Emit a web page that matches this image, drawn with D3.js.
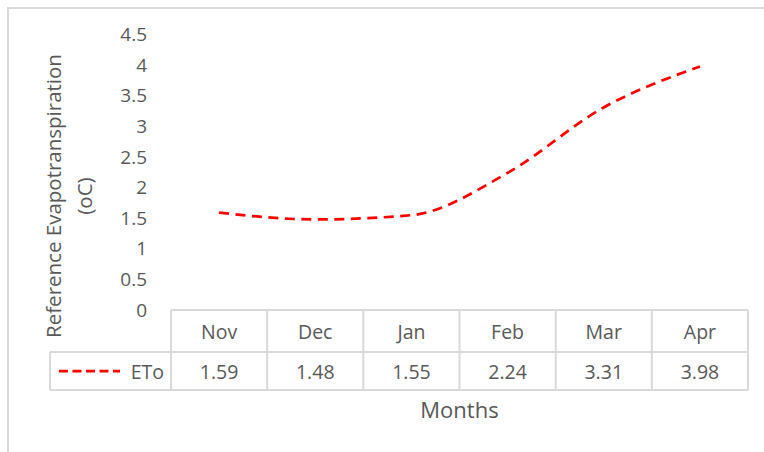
<!DOCTYPE html>
<html>
<head>
<meta charset="utf-8">
<script src="https://cdn.jsdelivr.net/npm/d3@7"></script>
<style>
  body { margin: 0; background: #fff; }
  text { font-family: "Open Sans", sans-serif; fill: #595959; }
</style>
</head>
<body>
<svg id="chart" width="764" height="452"></svg>
<script>
// data
const months = ['Nov', 'Dec', 'Jan', 'Feb', 'Mar', 'Apr'];
const eto = [1.59, 1.48, 1.55, 2.24, 3.31, 3.98];
const yTicks = [0, 0.5, 1, 1.5, 2, 2.5, 3, 3.5, 4, 4.5];
const seriesName = 'ETo';
const yTitleLines = ['Reference Evapotranspiration', '(oC)'];
const xTitle = 'Months';

const svg = d3.select('#chart');
const gridColor = '#d9d9d9';
const red = '#ff0000';

const plotLeft = 171, plotRight = 748, plotTop = 34.6, plotBottom = 310;
const rowH1 = 42, rowH2 = 38;

const x = d3.scaleBand().domain(months).range([plotLeft, plotRight]);
const y = d3.scaleLinear().domain([0, 4.5]).range([plotBottom, plotTop]);

// outer frame (only top/left visible)
svg.append('rect')
    .attr('x', 8).attr('y', 8)
    .attr('width', 800).attr('height', 500)
    .attr('fill', 'none')
    .attr('stroke', gridColor)
    .attr('stroke-width', 2);

// y axis tick labels
svg.append('g')
    .selectAll('text')
    .data(yTicks)
    .join('text')
    .attr('x', 147)
    .attr('y', d => y(d))
    .attr('dy', '0.35em')
    .attr('text-anchor', 'end')
    .attr('font-size', 19)
    .text(d => d);

// y title, two lines, rotated
const yt = svg.append('g').attr('transform', 'translate(0,196) rotate(-90)');
yt.selectAll('text')
    .data(yTitleLines)
    .join('text')
    .attr('x', 0)
    .attr('y', (d, i) => i === 0 ? 61 : 92)
    .attr('text-anchor', 'middle')
    .attr('font-size', 20.5)
    .text(d => d);

// data table
const table = svg.append('g')
    .attr('stroke', gridColor)
    .attr('stroke-width', 2)
    .attr('fill', 'none');

table.append('line')
    .attr('x1', plotLeft).attr('x2', plotRight)
    .attr('y1', plotBottom).attr('y2', plotBottom);
table.append('line')
    .attr('x1', 50).attr('x2', plotRight)
    .attr('y1', plotBottom + rowH1).attr('y2', plotBottom + rowH1);
table.append('line')
    .attr('x1', 50).attr('x2', plotRight)
    .attr('y1', plotBottom + rowH1 + rowH2).attr('y2', plotBottom + rowH1 + rowH2);
table.append('line')
    .attr('x1', 50).attr('x2', 50)
    .attr('y1', plotBottom + rowH1).attr('y2', plotBottom + rowH1 + rowH2);
table.selectAll('line.v')
    .data(months.map(m => x(m)).concat([plotRight]))
    .join('line')
    .attr('class', 'v')
    .attr('x1', d => d).attr('x2', d => d)
    .attr('y1', plotBottom).attr('y2', plotBottom + rowH1 + rowH2);

svg.append('g')
    .selectAll('text')
    .data(months)
    .join('text')
    .attr('x', d => x(d) + x.bandwidth() / 2)
    .attr('y', plotBottom + rowH1 / 2 + 1)
    .attr('dy', '0.35em')
    .attr('text-anchor', 'middle')
    .attr('font-size', 19.5)
    .text(d => d);

svg.append('g')
    .selectAll('text')
    .data(eto)
    .join('text')
    .attr('x', (d, i) => x(months[i]) + x.bandwidth() / 2)
    .attr('y', plotBottom + rowH1 + rowH2 / 2 + 1)
    .attr('dy', '0.35em')
    .attr('text-anchor', 'middle')
    .attr('font-size', 19.5)
    .text(d => d.toFixed(2));

// legend key inside the table
svg.append('line')
    .attr('x1', 59).attr('x2', 120)
    .attr('y1', plotBottom + rowH1 + rowH2 / 2).attr('y2', plotBottom + rowH1 + rowH2 / 2)
    .attr('stroke', red)
    .attr('stroke-width', 2.75)
    .attr('stroke-dasharray', '9,4.5');
svg.append('text')
    .attr('x', 164)
    .attr('y', plotBottom + rowH1 + rowH2 / 2 + 1)
    .attr('dy', '0.35em')
    .attr('text-anchor', 'end')
    .attr('font-size', 19.5)
    .text(seriesName);

// x title
svg.append('text')
    .attr('x', (plotLeft + plotRight) / 2)
    .attr('y', 410)
    .attr('dy', '0.35em')
    .attr('text-anchor', 'middle')
    .attr('font-size', 22)
    .text(xTitle);

// the smoothed dashed series line
const line = d3.line()
    .x((d, i) => x(months[i]) + x.bandwidth() / 2)
    .y(d => y(d))
    .curve(d3.curveMonotoneX);

svg.append('path')
    .datum(eto)
    .attr('d', line)
    .attr('fill', 'none')
    .attr('stroke', red)
    .attr('stroke-width', 2.75)
    .attr('stroke-dasharray', '10,6.5');
</script>
</body>
</html>
